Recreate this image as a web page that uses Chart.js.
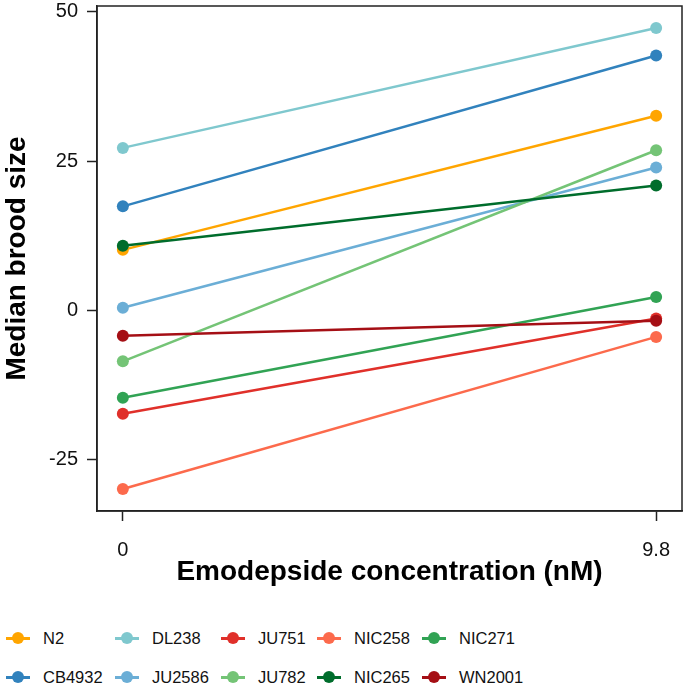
<!DOCTYPE html>
<html>
<head>
<meta charset="utf-8">
<script src="https://cdn.jsdelivr.net/npm/chart.js@4.4.1/dist/chart.umd.min.js"></script>
<style>
  html, body { margin: 0; padding: 0; background: #fff; }
  body { width: 688px; height: 687px; position: relative; overflow: hidden; font-family: "Liberation Sans", Arial, sans-serif; }
  #wrap { position: absolute; left: 0; top: 0; width: 688px; height: 593px; }
  #legend { position: absolute; left: 6px; top: 622px; display: grid;
    grid-template-columns: 109px 106px 96px 105px auto; row-gap: 7px; }
  .item { display: flex; align-items: center; height: 32px; font-size: 16.5px; color: #111; }
  .sym { position: relative; width: 24px; height: 12px; margin-right: 13px; }
  .sym .ln { position: absolute; left: 0; right: 0; top: 5px; height: 2.5px; }
  .sym .dt { position: absolute; left: 6px; top: 0; width: 12px; height: 12px; border-radius: 50%; }
</style>
</head>
<body>
<div id="wrap"><canvas id="chart"></canvas></div>
<div id="legend"></div>
<script>
// ------------ DATA ---------------
const concentrations = [0, 9.8];
const xTickLabels = ["0", "9.8"];
const yTicks = [-25, 0, 25, 50];

const strains = ["N2", "CB4932", "DL238", "JU2586", "JU751", "JU782", "NIC258", "NIC265", "NIC271", "WN2001"];
const broodAt0 = [10.1, 17.4, 27.2, 0.4, -17.4, -8.6, -30.0, 10.8, -14.7, -4.3];
const broodAt98 = [32.6, 42.7, 47.3, 23.9, -1.4, 26.8, -4.5, 20.9, 2.2, -1.8];
const colors = ["#FFA500", "#3182BD", "#7FC8CE", "#6BAED6", "#E0302A", "#74C476", "#FC6A4C", "#006D2C", "#31A354", "#A50F15"];

const axisColor = "#222";

const datasets = strains.map((s, i) => ({
  label: s,
  data: [{ x: concentrations[0], y: broodAt0[i] }, { x: concentrations[1], y: broodAt98[i] }],
  borderColor: colors[i],
  backgroundColor: colors[i],
  borderWidth: 2.5,
  pointRadius: 6,
  pointHoverRadius: 6,
  pointBorderWidth: 0,
  order: strains.length - i
}));

// box around the panel (top and right sides)
const panelBox = {
  id: "panelBox",
  afterDraw(chart) {
    const { ctx, chartArea: a } = chart;
    ctx.save();
    ctx.strokeStyle = axisColor;
    ctx.lineWidth = 1.5;
    ctx.strokeRect(a.left, a.top, a.right - a.left, a.bottom - a.top);
    ctx.restore();
  }
};

new Chart(document.getElementById("chart"), {
  type: "line",
  data: { datasets },
  plugins: [panelBox],
  options: {
    responsive: true,
    maintainAspectRatio: false,
    animation: false,
    layout: { padding: { top: 3, right: 3, left: 0, bottom: 0 } },
    plugins: {
      legend: { display: false },
      tooltip: { enabled: false }
    },
    scales: {
      x: {
        type: "linear",
        min: -0.475,
        max: 10.275,
        afterBuildTicks: axis => { axis.ticks = concentrations.map(v => ({ value: v })); },
        afterFit: axis => { axis.height = 82; axis.paddingLeft = 0; axis.paddingRight = 0; },
        ticks: {
          color: "#111",
          font: { family: "Liberation Sans", size: 20 },
          padding: 17,
          callback: (v) => xTickLabels[concentrations.indexOf(v)]
        },
        grid: { drawOnChartArea: false, drawTicks: true, tickLength: 10, tickColor: axisColor, tickWidth: 1.5 },
        border: { display: true, color: axisColor, width: 1.5 },
        title: {
          display: true,
          text: "Emodepside concentration (nM)",
          color: "#000",
          font: { family: "Liberation Sans", size: 28, weight: "bold" },
          padding: { top: 0, bottom: 4 }
        }
      },
      y: {
        min: -33.7,
        max: 51,
        afterBuildTicks: axis => { axis.ticks = yTicks.map(v => ({ value: v })); },
        afterFit: axis => { axis.width = 97; axis.paddingTop = 0; axis.paddingBottom = 0; },
        ticks: {
          color: "#111",
          font: { family: "Liberation Sans", size: 20 },
          padding: 9
        },
        grid: { drawOnChartArea: false, drawTicks: true, tickLength: 10, tickColor: axisColor, tickWidth: 1.5 },
        border: { display: true, color: axisColor, width: 1.5 },
        title: {
          display: true,
          text: "Median brood size",
          color: "#000",
          font: { family: "Liberation Sans", size: 28, weight: "bold" },
          padding: { top: 0, bottom: 0 }
        }
      }
    }
  }
});

// ------------ LEGEND (two rows, filled by column) ---------------
const legend = document.getElementById("legend");
const rows = 2;
const cols = Math.ceil(strains.length / rows);
for (let r = 0; r < rows; r++) {
  for (let c = 0; c < cols; c++) {
    const i = c * rows + r;
    if (i >= strains.length) continue;
    const item = document.createElement("div");
    item.className = "item";
    item.innerHTML = `<span class="sym"><span class="ln" style="background:${colors[i]}"></span>` +
      `<span class="dt" style="background:${colors[i]}"></span></span>${strains[i]}`;
    legend.appendChild(item);
  }
}
</script>
</body>
</html>
